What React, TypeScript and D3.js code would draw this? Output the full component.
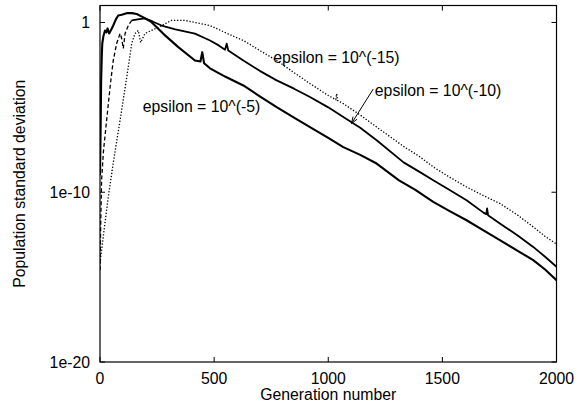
import React from "react";
import * as d3 from "d3";

// ---- data ----
const eps5Gen = [0, 3, 5, 8, 10, 15, 22, 28, 33, 40, 50, 58, 70, 80, 95, 117, 140, 161, 190, 226, 280, 343, 416, 440, 448, 456, 482, 550, 628, 700, 774, 850, 920, 1000, 1066, 1140, 1212, 1310, 1380, 1460, 1530, 1606, 1680, 1752, 1830, 1898, 1950, 2000];
const eps5Log = [-9, -6, -3.4, -1.9, -1.24, -0.8, -0.47, -0.59, -0.35, -0.65, -0.4, -0.18, 0.2, 0.41, 0.45, 0.55, 0.55, 0.5, 0.3, 0.02, -0.7, -1.45, -2.24, -2.3, -1.75, -2.4, -2.7, -3.2, -3.71, -4.35, -4.98, -5.6, -6.16, -6.8, -7.34, -7.8, -8.31, -9.3, -9.85, -10.57, -11.1, -11.65, -12.25, -12.82, -13.45, -14.0, -14.55, -15.18];

const eps10Gen = [0, 3, 7, 15, 29, 45, 58, 73, 88, 95, 102, 110, 124, 139, 165, 197, 230, 270, 330, 416, 482, 520, 548, 555, 562, 628, 700, 774, 850, 920, 1000, 1066, 1140, 1212, 1330, 1400, 1460, 1530, 1606, 1680, 1692, 1696, 1700, 1752, 1830, 1898, 1950, 2000];
const eps10Log = [-14.6, -12, -9.3, -7.6, -5.76, -3.7, -2.24, -1.24, -0.65, -0.94, -1.53, -0.65, -0.18, 0.12, 0.18, 0.24, 0.06, -0.18, -0.4, -0.66, -1.06, -1.35, -1.6, -1.25, -1.65, -2.24, -2.85, -3.41, -3.9, -4.39, -5.0, -5.57, -6.2, -6.94, -8.24, -8.8, -9.29, -9.85, -10.47, -11.2, -11.3, -10.95, -11.35, -11.84, -12.55, -13.22, -13.8, -14.39];

const eps15Gen = [0, 14, 36, 60, 88, 117, 139, 153, 168, 178, 197, 226, 270, 313, 372, 416, 482, 550, 628, 700, 774, 850, 920, 1000, 1033, 1037, 1041, 1066, 1140, 1212, 1330, 1400, 1460, 1530, 1606, 1680, 1752, 1830, 1898, 1950, 2000];
const eps15Log = [-14.18, -12.65, -10.3, -8.1, -5.76, -3.24, -1.24, -0.65, -0.47, -1.18, -0.65, -0.47, -0.18, 0.12, 0.12, 0.0, -0.18, -0.6, -1.06, -1.65, -2.24, -2.95, -3.6, -4.3, -4.55, -4.2, -4.6, -4.78, -5.45, -6.16, -7.3, -7.9, -8.51, -9.1, -9.69, -10.2, -10.66, -11.35, -12.04, -12.6, -13.05];

const xTicks = [0, 500, 1000, 1500, 2000];
const yTicks = [1, 1e-10, 1e-20];
const yTickLabels = ["1", "1e-10", "1e-20"];

const labels = [
  { text: "epsilon = 10^(-5)", gen: 187, log: -5.26 },
  { text: "epsilon = 10^(-15)", gen: 759, log: -2.4 },
  { text: "epsilon = 10^(-10)", gen: 1204, log: -4.33 },
];
const arrowFrom = { gen: 1197, log: -3.92 };
const arrowTo = { gen: 1102, log: -5.95 };

const W = 579;
const H = 407;
const L = 100, R = 556.5, T = 5.5, B = 362;
const FONT = "'Liberation Sans', Arial, Helvetica, sans-serif";
const FS = 15.8;

export default function App() {
  const x = d3.scaleLinear().domain([0, 2000]).range([L, R]);
  const y = d3.scaleLog().domain([1e-20, 10]).range([B, T]);
  const line = d3
    .line<[number, number]>()
    .x((d) => x(d[0]))
    .y((d) => y(Math.pow(10, d[1])));

  const zip = (g: number[], v: number[]) => g.map((gg, i) => [gg, v[i]] as [number, number]);
  const s5 = zip(eps5Gen, eps5Log);
  const s10 = zip(eps10Gen, eps10Log);
  const s15 = zip(eps15Gen, eps15Log);
  const split = 139;
  const s10a = s10.filter((d) => d[0] <= split);
  const s10b = s10.filter((d) => d[0] >= split);

  const ax1 = x(arrowFrom.gen), ay1 = y(Math.pow(10, arrowFrom.log));
  const ax2 = x(arrowTo.gen), ay2 = y(Math.pow(10, arrowTo.log));
  const ang = Math.atan2(ay2 - ay1, ax2 - ax1);
  const hl = 7, ha = 0.35;
  const h1 = [ax2 - hl * Math.cos(ang - ha), ay2 - hl * Math.sin(ang - ha)];
  const h2 = [ax2 - hl * Math.cos(ang + ha), ay2 - hl * Math.sin(ang + ha)];

  const tl = 5;

  return (
    <div style={{ position: "fixed", left: 0, top: 0 }}>
      <svg width={W} height={H} style={{ display: "block", background: "#fff" }}>
        <rect x={0} y={0} width={W} height={H} fill="#fff" />
        <defs>
          <clipPath id="clip">
            <rect x={L} y={T} width={R - L} height={B - T} />
          </clipPath>
        </defs>
        <g clipPath="url(#clip)">
          <path d={line(s15) || ""} fill="none" stroke="#000" strokeWidth={1.3} strokeDasharray="1.3 1.8" />
          <path d={line(s10a) || ""} fill="none" stroke="#000" strokeWidth={1.3} strokeDasharray="4 2.5" />
          <path d={line(s10b) || ""} fill="none" stroke="#000" strokeWidth={1.8} strokeLinejoin="round" />
          <path d={line(s5) || ""} fill="none" stroke="#000" strokeWidth={2.1} strokeLinejoin="round" />
        </g>
        {/* frame */}
        <rect x={L} y={T} width={R - L} height={B - T} fill="none" stroke="#000" strokeWidth={1.2} />
        {/* x ticks */}
        {xTicks.map((t) => (
          <g key={"x" + t}>
            <line x1={x(t)} x2={x(t)} y1={B} y2={B - tl} stroke="#000" strokeWidth={1} />
            <line x1={x(t)} x2={x(t)} y1={T} y2={T + tl} stroke="#000" strokeWidth={1} />
            <text x={x(t)} y={383.5} textAnchor="middle" fontFamily={FONT} fontSize={FS} fill="#000">
              {t}
            </text>
          </g>
        ))}
        {/* y ticks */}
        {yTicks.map((t, i) => (
          <g key={"y" + i}>
            <line x1={L} x2={L + tl} y1={y(t)} y2={y(t)} stroke="#000" strokeWidth={1} />
            <line x1={R} x2={R - tl} y1={y(t)} y2={y(t)} stroke="#000" strokeWidth={1} />
            <text x={90} y={y(t) + 5.6} textAnchor="end" fontFamily={FONT} fontSize={FS} fill="#000">
              {yTickLabels[i]}
            </text>
          </g>
        ))}
        {/* axis titles */}
        <text x={(L + R) / 2} y={400} textAnchor="middle" fontFamily={FONT} fontSize={FS} fill="#000">
          Generation number
        </text>
        <text
          transform={`translate(24.5, ${(T + B) / 2}) rotate(-90)`}
          textAnchor="middle"
          fontFamily={FONT}
          fontSize={FS}
          fill="#000"
        >
          Population standard deviation
        </text>
        {/* curve labels */}
        {labels.map((lb) => (
          <text
            key={lb.text}
            x={x(lb.gen)}
            y={y(Math.pow(10, lb.log))}
            fontFamily={FONT}
            fontSize={FS}
            fill="#000"
          >
            {lb.text}
          </text>
        ))}
        {/* arrow */}
        <line x1={ax1} y1={ay1} x2={ax2} y2={ay2} stroke="#000" strokeWidth={1} />
        <polyline
          points={`${h1[0]},${h1[1]} ${ax2},${ay2} ${h2[0]},${h2[1]}`}
          fill="none"
          stroke="#000"
          strokeWidth={1}
        />
      </svg>
    </div>
  );
}
